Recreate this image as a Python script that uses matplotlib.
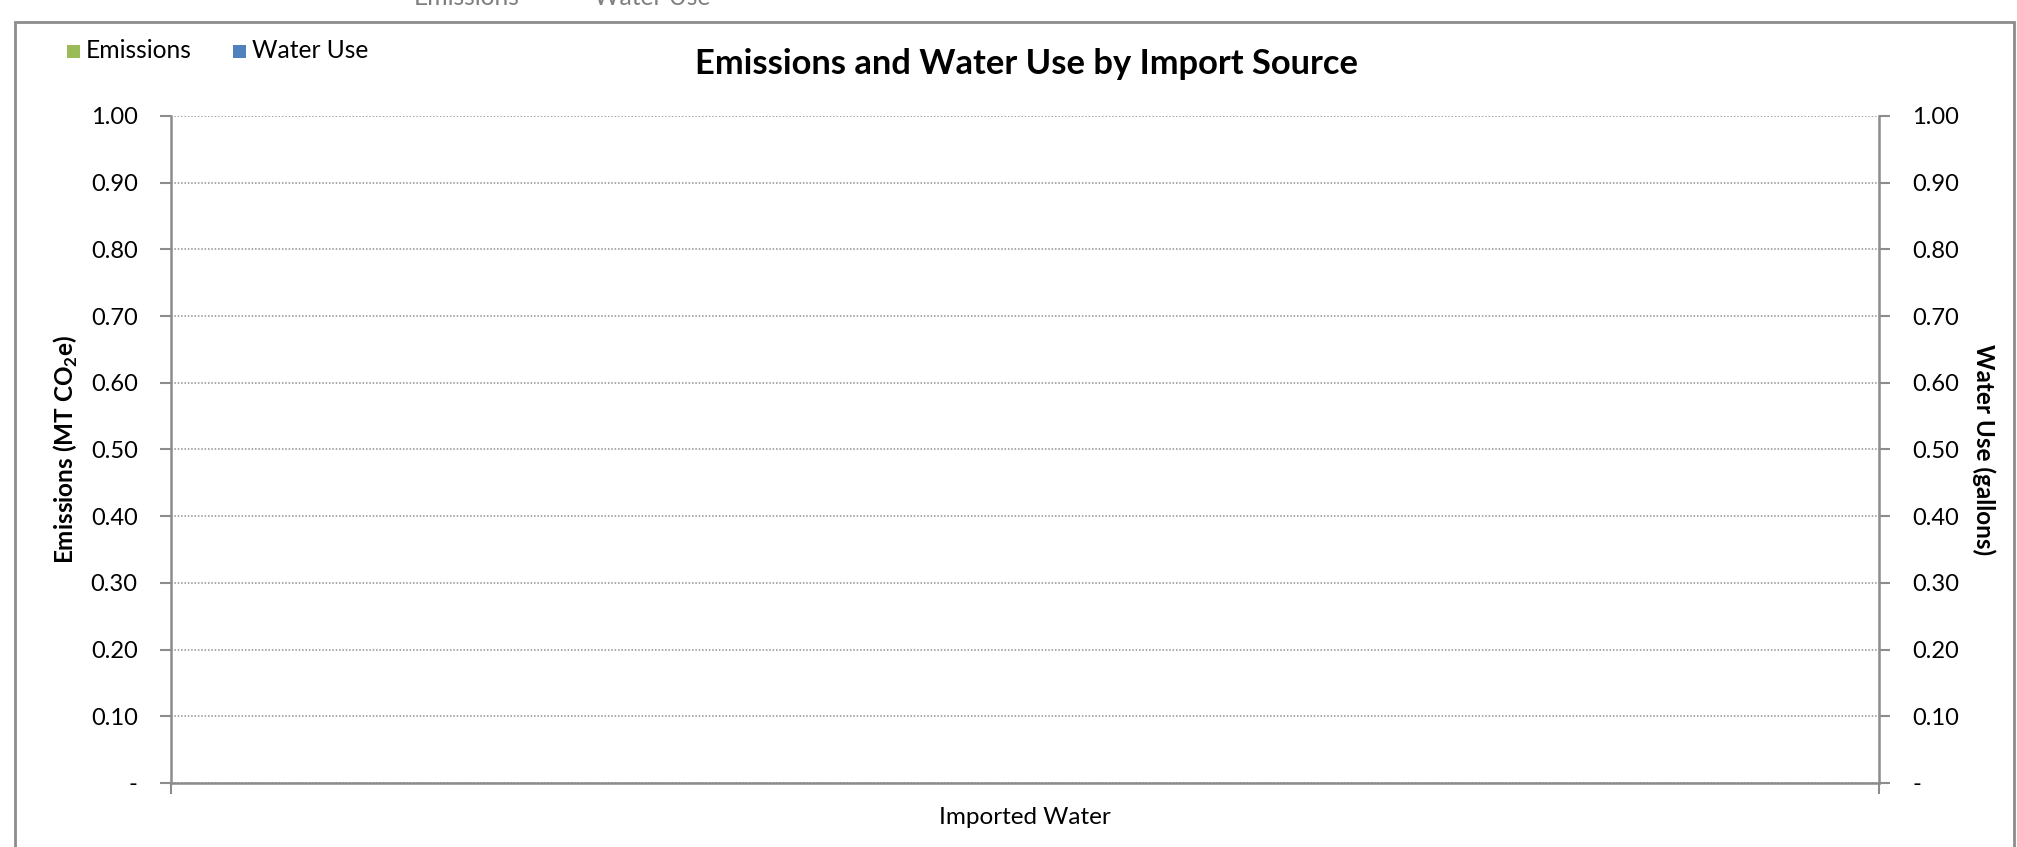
import matplotlib
matplotlib.use("Agg")
import matplotlib.pyplot as plt
from matplotlib.patches import Rectangle
from matplotlib.ticker import FixedLocator, FuncFormatter

plt.rcParams['font.family'] = ['Lato', 'DejaVu Sans']
plt.rcParams['mathtext.fontset'] = 'custom'
plt.rcParams['mathtext.rm'] = 'Lato'
plt.rcParams['mathtext.bf'] = 'Lato:bold'

# data (the chart has no visible values)
categories = ["Imported Water"]
emissions = [0.0]
water_use = [0.0]
y_ticks = [0.0, 0.1, 0.2, 0.3, 0.4, 0.5, 0.6, 0.7, 0.8, 0.9, 1.0]

green = "#9bbb59"
blue = "#4f81bd"
axis_grey = "#8c8c8c"

fig = plt.figure(figsize=(20.17, 8.47), dpi=100)
ax = fig.add_axes([0.0848, 0.0756, 0.8468, 0.7875])
ax2 = ax.twinx()

# bars (zero height, nothing shows)
ax.bar([0], emissions, width=0.3, color=green, align='edge')
ax2.bar([0.3], water_use, width=0.3, color=blue, align='edge')

ax.set_xlim(-0.5, 0.5)
for a in (ax, ax2):
    a.set_ylim(0, 1.0)
    a.yaxis.set_major_locator(FixedLocator(y_ticks))
    a.yaxis.set_major_formatter(FuncFormatter(lambda v, p: "-" if abs(v) < 1e-9 else f"{v:.2f}"))
    for s in a.spines.values():
        s.set_visible(False)
    a.tick_params(axis='y', length=8, width=1.5, color=axis_grey, labelsize=17, pad=16)

ax.spines['left'].set_visible(True)
ax.spines['bottom'].set_visible(True)
ax2.spines['right'].set_visible(True)
for s in (ax.spines['left'], ax.spines['bottom'], ax2.spines['right']):
    s.set_color(axis_grey)
    s.set_linewidth(1.8)

ax.yaxis.grid(True, linestyle=(0, (1, 1.2)), color="#909090", linewidth=1.1)
ax.set_axisbelow(True)

# category axis: tick marks at both edges, label at centre
ax.xaxis.set_major_locator(FixedLocator([-0.5, 0.5]))
ax.xaxis.set_major_formatter(FuncFormatter(lambda v, p: ""))
ax.xaxis.set_minor_locator(FixedLocator([0]))
ax.set_xticklabels(categories, minor=True)
ax.tick_params(axis='x', which='major', length=8, width=1.5, color=axis_grey)
ax.tick_params(axis='x', which='minor', length=0, labelsize=17.5, pad=17)

ax.set_ylabel("Emissions (MT CO$_\\mathbf{2}$e)", fontsize=17.5, fontweight='bold', labelpad=8)
ax2.set_ylabel("Water Use (gallons)", fontsize=17.5, fontweight='bold', rotation=270, labelpad=26)

fig.text(0.5087, 1 - 64 / 847, "Emissions and Water Use by Import Source",
         ha='center', va='center', fontsize=24.8, fontweight='bold')

# legend
legend_items = [("Emissions", green, 67), ("Water Use", blue, 233)]
for label, col, x0 in legend_items:
    fig.patches.append(Rectangle((x0 / 2017, 1 - 58 / 847), 13 / 2017, 13 / 847,
                                 transform=fig.transFigure, facecolor=col, edgecolor='none'))
    fig.text((x0 + 19) / 2017, 1 - 51 / 847, label, ha='left', va='center', fontsize=17.7)

# cut-off labels from the chart above
fig.text(414 / 2017, 1 - 5 / 847, "Emissions", ha='left', va='baseline', fontsize=17.7, color="#7f7f7f")
fig.text(594 / 2017, 1 - 5 / 847, "Water Use", ha='left', va='baseline', fontsize=17.7, color="#7f7f7f")

# chart area frame
fig.patches.append(Rectangle((15 / 2017, -0.1), (2014 - 15) / 2017, 1.1 - 22 / 847,
                             transform=fig.transFigure, facecolor='none',
                             edgecolor=axis_grey, linewidth=2))

fig.savefig("out.png", dpi=100)
